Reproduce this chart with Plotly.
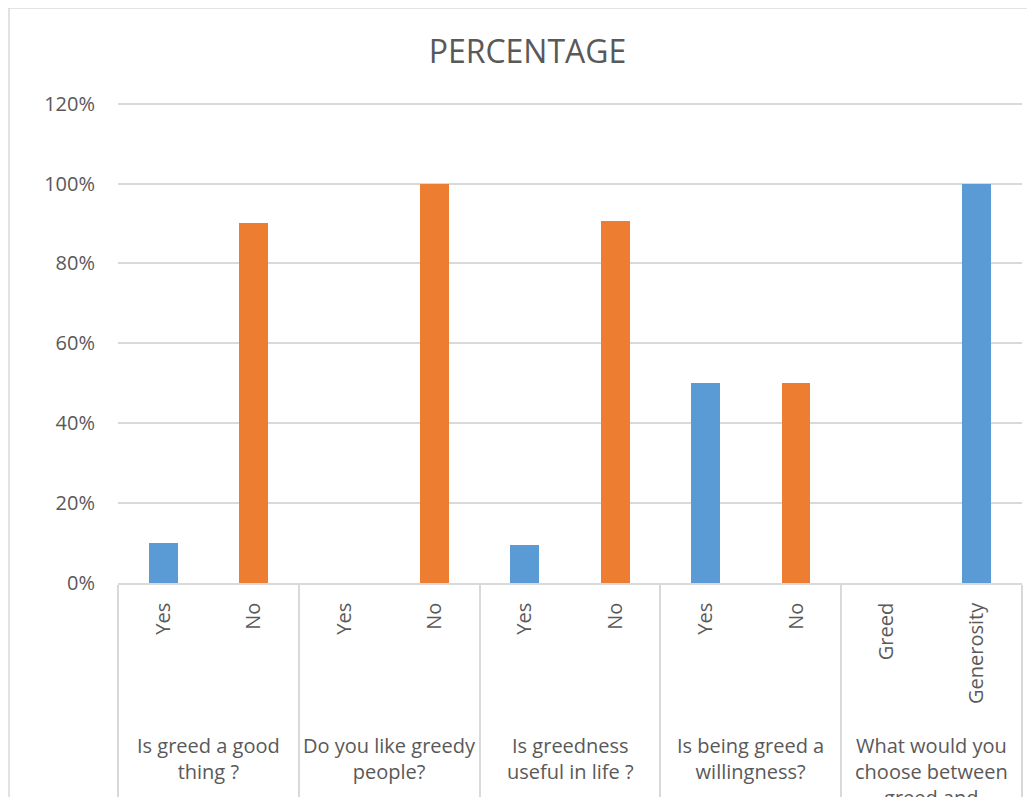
import textwrap
import plotly.graph_objects as go

# ---- data ----
questions = [
    "Is greed a good thing ?",
    "Do you like greedy people?",
    "Is greedness useful in life ?",
    "Is being greed a willingness?",
    "What would you choose between greed and generosity?",
]
answers = [
    ["Yes", "No"],
    ["Yes", "No"],
    ["Yes", "No"],
    ["Yes", "No"],
    ["Greed", "Generosity"],
]
values = [
    [0.10, 0.90],
    [0.00, 1.00],
    [0.094, 0.906],
    [0.50, 0.50],
    [0.00, 1.00],
]
y_ticks = [0, 0.2, 0.4, 0.6, 0.8, 1.0, 1.2]

BLUE = "#5B9BD5"
ORANGE = "#ED7D31"
GRAY_TXT = "#595959"
GRID = "#D9D9D9"
FONT = "Open Sans"

# flatten
sub_labels = [a for grp in answers for a in grp]
flat_vals = [v for grp in values for v in grp]
xs = list(range(len(sub_labels)))
colors = [ORANGE if a == "No" else BLUE for a in sub_labels]

# ---- layout geometry (pixels) ----
W, H = 1019, 789
ML, MR, MT, MB = 110, 5, 94, 214
PW, PH = W - ML - MR, H - MT - MB
OFF = 8  # page offset of the figure


def fx(page_x):
    return (page_x - OFF - ML) / PW


def fy(page_y):
    return (H - MB - (page_y - OFF)) / PH


fig = go.Figure()
fig.add_trace(go.Bar(
    x=xs, y=flat_vals, width=0.32,
    marker=dict(color=colors, line=dict(width=0)),
    showlegend=False, hoverinfo="skip",
))

# group labels
n_per = [len(g) for g in answers]
start = 0
for q, n in zip(questions, n_per):
    center = start + (n - 1) / 2
    start += n
    fig.add_annotation(
        x=center, xref="x", y=fy(730), yref="paper",
        text="<br>".join(textwrap.wrap(q, 18)),
        showarrow=False, xanchor="center", yanchor="top",
        font=dict(family=FONT, size=20, color=GRAY_TXT),
        align="center",
    )

# chart outer border (left and top edges)
fig.add_shape(type="line", xref="paper", yref="paper",
              x0=fx(9), x1=fx(9), y0=fy(8), y1=fy(820),
              line=dict(color=GRID, width=1.5))
fig.add_shape(type="line", xref="paper", yref="paper",
              x0=fx(9), x1=fx(1040), y0=fy(8), y1=fy(8),
              line=dict(color=GRID, width=1.5))

fig.update_layout(
    width=W, height=H,
    margin=dict(l=ML, r=MR, t=MT, b=MB, pad=0),
    paper_bgcolor="white", plot_bgcolor="white",
    font=dict(family=FONT, color=GRAY_TXT, size=20),
    bargap=0,
    title=dict(text="PERCENTAGE", x=(527.5 - OFF) / W, xanchor="center",
               y=1 - (52 - OFF) / H, yanchor="middle", xref="container", yref="container",
               font=dict(family=FONT, size=32, color=GRAY_TXT)),
    xaxis=dict(
        range=[-0.5, len(xs) - 0.5],
        tickmode="array", tickvals=xs, ticktext=sub_labels,
        tickangle=-90, ticks="", showgrid=False,
        showline=True, linecolor=GRID, linewidth=1.5,
        ticklabelstandoff=10,
        tickfont=dict(family=FONT, size=20, color=GRAY_TXT),
        minor=dict(ticks="outside", tickmode="array",
                   tickvals=[-0.5, 1.5, 3.5, 5.5, 7.5, 9.5],
                   ticklen=230, tickcolor=GRID, tickwidth=1.5),
        zeroline=False, fixedrange=True,
    ),
    yaxis=dict(
        range=[0, 1.204], tickmode="array", tickvals=y_ticks,
        tickformat=".0%", showgrid=True, gridcolor=GRID, gridwidth=1.5,
        zeroline=False, showline=False, ticks="",
        ticklabelstandoff=22,
        tickfont=dict(family=FONT, size=20, color=GRAY_TXT),
        fixedrange=True,
    ),
)

fig.write_html("out.html")
